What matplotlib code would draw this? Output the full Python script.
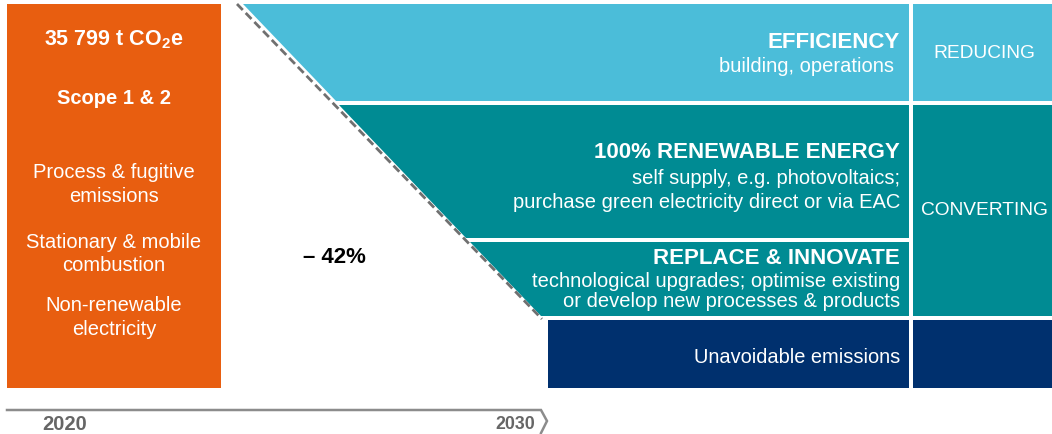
import matplotlib.pyplot as plt
from matplotlib.patches import Polygon, Rectangle

plt.rcParams["font.family"] = ["Liberation Sans", "DejaVu Sans"]
plt.rcParams["mathtext.fontset"] = "custom"
plt.rcParams["mathtext.rm"] = "Liberation Sans:bold"

# %% data
baseline_year = 2020
target_year = 2030
baseline_total = "35 799"
reduction_pct = 42
scope_label = "Scope 1 & 2"
source_lines = [
    ["Process & fugitive", "emissions"],
    ["Stationary & mobile", "combustion"],
    ["Non-renewable", "electricity"],
]
lever_titles = ["EFFICIENCY", "100% RENEWABLE ENERGY", "REPLACE & INNOVATE"]
lever_details = [
    ["building, operations "],
    ["self supply, e.g. photovoltaics;",
     "purchase green electricity direct or via EAC"],
    ["technological upgrades; optimise existing",
     "or develop new processes & products"],
]
residual_label = "Unavoidable emissions"
stage_labels = ["REDUCING", "CONVERTING"]

# %% layout (pixel space, y down)
W, H = 1052, 435
orange = "#E85E10"
light_blue = "#4BBDD9"
teal = "#008B93"
navy = "#00306E"
colors = [light_blue, teal, teal]

band_rows = [(5, 102), (106, 239), (243, 317)]
residual_row = (321, 389)
right_edge = 909
side_col = (913, W)
text_right = 900

# y positions of title and detail lines for each lever
title_y = [42, 153, 259]
detail_y = [[66], [179, 203], [282, 302]]
source_y = [[173, 197], [243, 266], [306, 330]]


def edge_x(y):
    # sloped left edge of the reduction wedge
    return 243 + (y - 5) * 0.955


def dash_x(y):
    return 237 + (y - 5) * 0.968


fig = plt.figure(figsize=(W / 100, H / 100), dpi=100)
ax = fig.add_axes([0, 0, 1, 1])
ax.set_xlim(0, W)
ax.set_ylim(H, 0)
ax.axis("off")

# baseline block
ax.add_patch(Rectangle((7, 5), 214, 384, color=orange, lw=0))
ax.text(114, 40, baseline_total + r" t CO$_2$e", color="white", fontsize=15.5,
        fontweight="bold", ha="center", va="center")
ax.text(114, 99, scope_label, color="white", fontsize=14.5,
        fontweight="bold", ha="center", va="center")
for ys, lines in zip(source_y, source_lines):
    for yc, line in zip(ys, lines):
        ax.text(114, yc, line, color="white", fontsize=14.5,
                ha="center", va="center")

# reduction levers
for (top, bot), col in zip(band_rows, colors):
    ax.add_patch(Polygon([(edge_x(top), top), (right_edge, top),
                          (right_edge, bot), (edge_x(bot), bot)],
                         closed=True, color=col, lw=0))

for ty, title, dys, details in zip(title_y, lever_titles, detail_y, lever_details):
    ax.text(text_right, ty, title, color="white", fontsize=16,
            fontweight="bold", ha="right", va="center")
    for yc, line in zip(dys, details):
        ax.text(text_right, yc, line, color="white", fontsize=14.5,
                ha="right", va="center")

# unavoidable remainder
ax.add_patch(Rectangle((548, residual_row[0]), right_edge - 548,
                       residual_row[1] - residual_row[0], color=navy, lw=0))
ax.text(text_right, 358, residual_label, color="white", fontsize=14.4,
        ha="right", va="center")

# stage column
ax.add_patch(Rectangle((side_col[0], 5), side_col[1] - side_col[0], 97,
                       color=light_blue, lw=0))
ax.add_patch(Rectangle((side_col[0], 106), side_col[1] - side_col[0], 211,
                       color=teal, lw=0))
ax.add_patch(Rectangle((side_col[0], residual_row[0]), side_col[1] - side_col[0],
                       residual_row[1] - residual_row[0], color=navy, lw=0))
ax.text(984, 54, stage_labels[0], color="white", fontsize=13.8,
        ha="center", va="center")
ax.text(984, 211, stage_labels[1], color="white", fontsize=13.8,
        ha="center", va="center")

# target path
ax.plot([dash_x(5), dash_x(320)], [5, 320], color="#707070", lw=2,
        dashes=(3.0, 1.5), solid_capstyle="butt")
ax.text(334, 258, f"\u2013 {reduction_pct}%", color="black", fontsize=16,
        fontweight="bold", ha="center", va="center")

# time axis
ax.plot([7, 541, 547, 541], [411, 411, 422, 434], color="#8C8C8C", lw=1.8,
        solid_joinstyle="miter")
ax.text(65, 425, str(baseline_year), color="#666666", fontsize=14.5,
        fontweight="bold", ha="center", va="center")
ax.text(535, 425, str(target_year), color="#666666", fontsize=12.8,
        fontweight="bold", ha="right", va="center")

fig.savefig("out.png", dpi=100)
